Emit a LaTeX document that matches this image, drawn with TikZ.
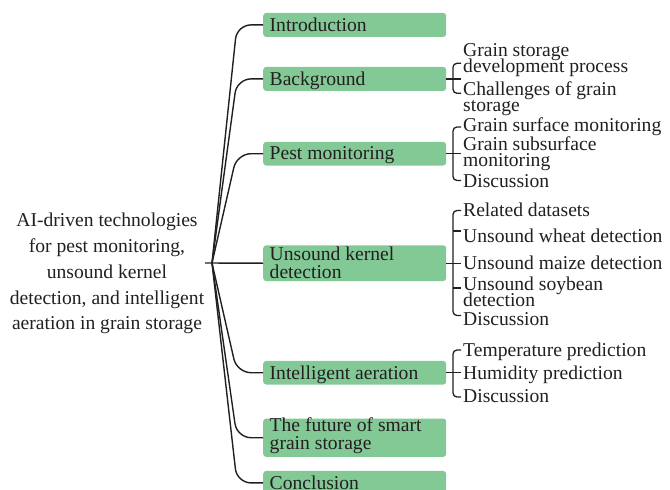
\documentclass[tikz,border=0pt]{standalone}
\usepackage{fontspec}
\setmainfont{Liberation Serif}
\definecolor{boxgreen}{RGB}{131,201,150}
\definecolor{ink}{RGB}{35,31,32}
\newcommand{\twolines}[3][16]{\vtop{\baselineskip=#1pt\lineskiplimit=-100pt\lineskip=0pt\hbox{#2}\hbox{#3}}}
\newcommand{\rootline}[1]{\hbox to 215pt{\hfil#1\hfil}}
\begin{document}
\begin{tikzpicture}[x=1pt,y=-1pt,
  every node/.style={font=\fontsize{19.6}{20}\selectfont, text=ink},
  topic/.style={draw=none, fill=boxgreen, rounded corners=3pt, minimum width=183pt, minimum height=24pt, inner sep=0pt, anchor=north west},
  txt/.style={inner sep=0pt, anchor=base west},
  sub/.style={inner xsep=2pt, inner ysep=0pt, anchor=base west},
  trunk/.style={draw=ink, line width=1.4pt, rounded corners=14pt},
  brace/.style={draw=ink, line width=1.3pt, rounded corners=4pt},
]
\useasboundingbox (0,0) rectangle (670,490);

% root
\node[inner sep=0pt, anchor=base] (root) at (107,226.7) {\vtop{\baselineskip=25.8pt\lineskiplimit=-100pt\lineskip=0pt
  \rootline{AI-driven technologies}\rootline{for pest monitoring,}\rootline{unsound kernel}\rootline{detection, and intelligent}\rootline{aeration in grain storage}}};

% topic boxes
\node[topic] (bIntro) at (263,12.7) {};
\node[topic] (bBg) at (263,66.7) {};
\node[topic, minimum height=23.6pt] (bPest) at (263,141.7) {};
\node[topic, minimum height=35.8pt] (bUkd) at (263,245.1) {};
\node[topic, minimum height=23.6pt] (bAer) at (263,360.7) {};
\node[topic, minimum height=38.4pt] (bFut) at (263,418.3) {};
\node[topic] (bConc) at (263,470.7) {};

% topic texts
\node[txt] (tIntro) at (269.5,31) {Introduction};
\node[txt] (tBg) at (269.5,85) {Background};
\node[txt] (tPest) at (269.5,159.5) {Pest monitoring};
\node[txt] (tUkd) at (269.5,260) {\twolines[18.3]{Unsound kernel}{detection}};
\node[txt] (tAer) at (269.5,379.3) {Intelligent aeration};
\node[txt] (tFut) at (269.5,431.7) {\twolines[17.6]{The future of smart}{grain storage}};
\node[txt] (tConc) at (269.5,489.3) {Conclusion};

% sub topics
\node[sub] (bg1) at (461,56.5) {\twolines[15.5]{Grain storage}{development process}};
\node[sub] (bg2) at (461,95.5) {\twolines[15.5]{Challenges of grain}{storage}};
\node[sub] (p1) at (461,131.5) {Grain surface monitoring};
\node[sub] (p2) at (461,150) {\twolines{Grain subsurface}{monitoring}};
\node[sub] (p3) at (461,187) {Discussion};
\node[sub] (u1) at (461,216) {Related datasets};
\node[sub] (u2) at (461,242.5) {Unsound wheat detection};
\node[sub] (u3) at (461,269) {Unsound maize detection};
\node[sub] (u4) at (461,290) {\twolines{Unsound soybean}{detection}};
\node[sub] (u5) at (461,325) {Discussion};
\node[sub] (a1) at (461,356) {Temperature prediction};
\node[sub] (a2) at (461,379.5) {Humidity prediction};
\node[sub] (a3) at (461,402.5) {Discussion};

% helper coordinates
\coordinate (hub) at (212,263);
\coordinate (stubstart) at (205,263);
\coordinate (cx) at (237,0);
\coordinate (bx) at (453,0);

% trunk
\draw[trunk] (stubstart) -- (bUkd.west);
\foreach \b in {bIntro,bBg,bPest,bAer,bFut,bConc}
  \draw[trunk] (hub) -- (cx |- \b.west) -- (\b.west);

% Background bracket
\draw[brace] (bg1.west |- 0,63.3) -- (bx |- 0,63.3) -- (bx |- 0,93.3) -- (bg2.west |- 0,93.3);
\draw[brace] (bBg.east) -- (bg1.west |- bBg.east);

% Pest bracket
\draw[brace] (p1.west |- 0,127) -- (bx |- 0,127) -- (bx |- 0,180.5) -- (p3.west |- 0,180.5);
\draw[brace] (bPest.east) -- (p2.west |- bPest.east);

% Unsound kernel bracket
\draw[brace] (u1.west |- 0,210.5) -- (bx |- 0,210.5) -- (bx |- 0,315.5) -- (u5.west |- 0,315.5);
\draw[brace] (bx |- 0,231) -- (u2.west |- 0,231);
\draw[brace] (bx |- 0,288) -- (u4.west |- 0,288);
\draw[brace] (bUkd.east) -- (u3.west |- bUkd.east);

% Aeration bracket
\draw[brace] (a1.west |- 0,350) -- (bx |- 0,350) -- (bx |- 0,397) -- (a3.west |- 0,397);
\draw[brace] (bAer.east) -- (a2.west |- bAer.east);
\end{tikzpicture}
\end{document}
